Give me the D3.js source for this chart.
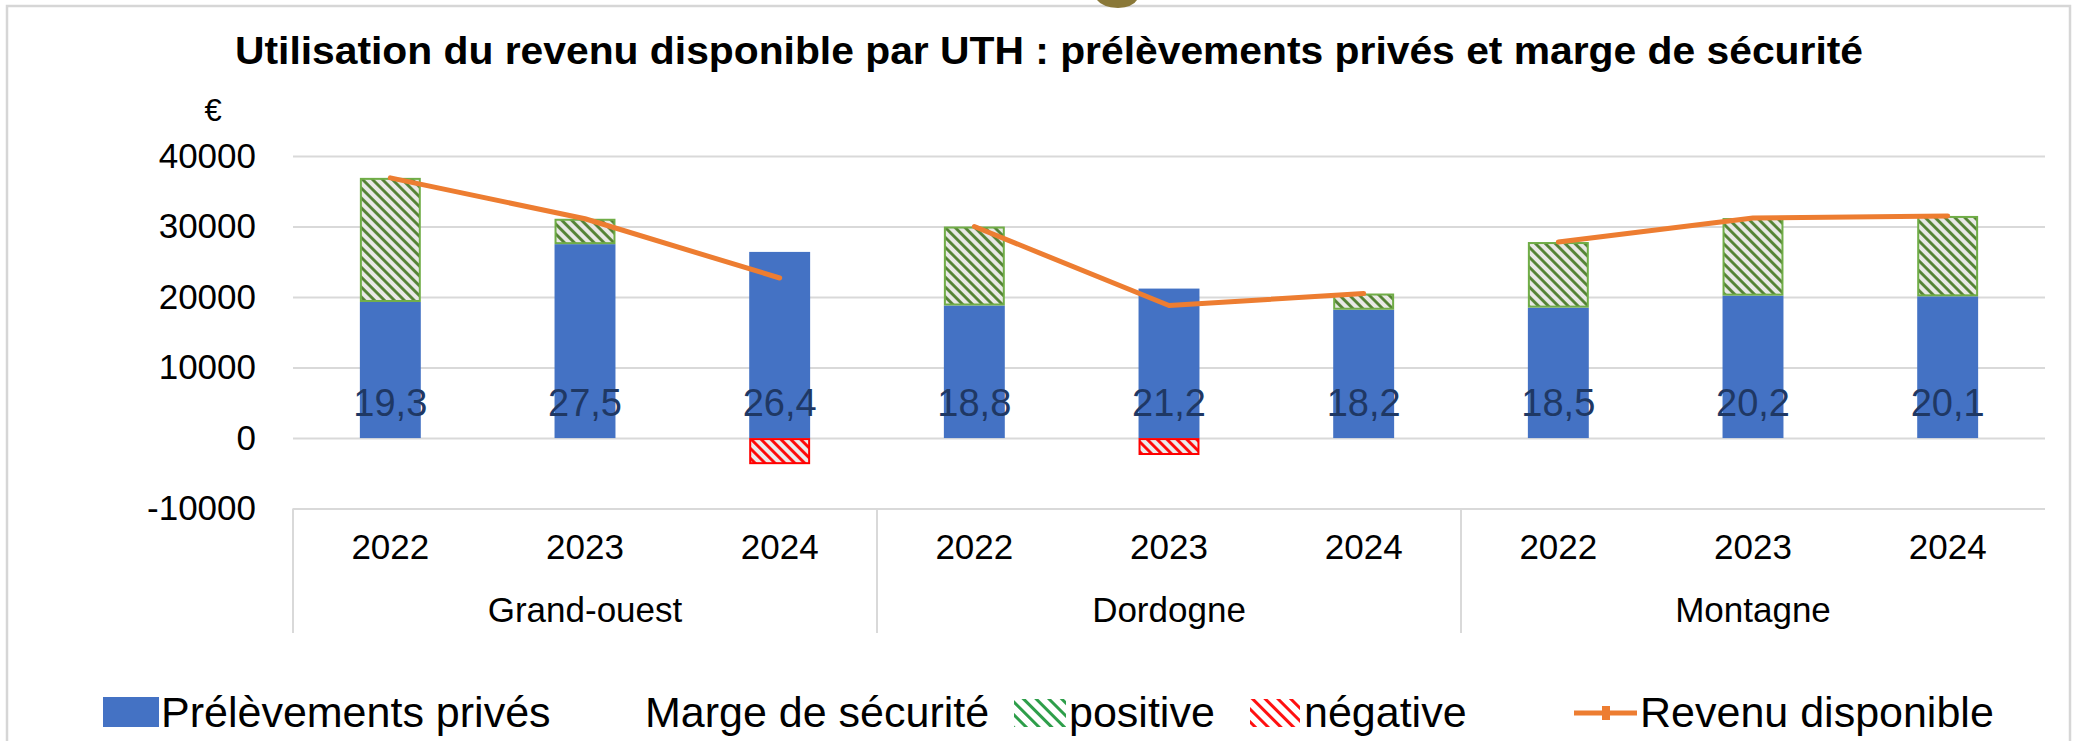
<!DOCTYPE html>
<html>
<head>
<meta charset="utf-8">
<script src="https://cdn.jsdelivr.net/npm/d3@7"></script>
<style>
  body { margin: 0; background: #fff; }
  svg { display: block; }
  text { font-family: "Liberation Sans", Arial, sans-serif; }
</style>
</head>
<body>
<div id="chart"></div>
<script>
// data
const groups = ['Grand-ouest', 'Dordogne', 'Montagne'];
const years = ['2022', '2023', '2024'];
const prelevements = [19300, 27500, 26400, 18800, 21200, 18200, 18500, 20200, 20100];
const marge = [17600, 3600, -3700, 11200, -2400, 2300, 9300, 11000, 11400];
const revenu = [36900, 31100, 22700, 30000, 18800, 20500, 27800, 31200, 31500];
const yTicks = [-10000, 0, 10000, 20000, 30000, 40000];

const title = 'Utilisation du revenu disponible par UTH : prélèvements privés et marge de sécurité';

////////////////////////////////////////////////////////////////////////////////
// CHART
////////////////////////////////////////////////////////////////////////////////
class StackChart {
  constructor(opts) {
    this.element = opts.element;
    this.width = opts.width;
    this.height = opts.height;
    this.plot = opts.plot;

    this.rows = prelevements.map((p, i) => ({
      key: groups[Math.floor(i / 3)] + '|' + years[i % 3],
      group: groups[Math.floor(i / 3)],
      year: years[i % 3],
      prel: p,
      marge: marge[i],
      revenu: revenu[i]
    }));

    this.svg = d3.select(this.element).append('svg')
      .attr('width', this.width)
      .attr('height', this.height);

    this.patterns();
    this.frame();
    this.scales();
    this.axes();
    this.bars();
    this.line();
    this.labels();
    this.legend();
  }

  patterns() {
    const defs = this.svg.append('defs');
    const mk = (id, bg, fg, size, sw) => {
      const p = defs.append('pattern')
        .attr('id', id)
        .attr('patternUnits', 'userSpaceOnUse')
        .attr('width', size).attr('height', size)
        .attr('patternTransform', 'rotate(-45)');
      p.append('rect').attr('width', size).attr('height', size).attr('fill', bg);
      p.append('line')
        .attr('x1', size / 2).attr('x2', size / 2)
        .attr('y1', 0).attr('y2', size)
        .attr('stroke', fg).attr('stroke-width', sw);
    };
    mk('hatchPos', '#e9e9e6', '#4f7f2f', 7, 2.8);
    mk('hatchNeg', '#ececec', '#ff0000', 7, 2.8);
    mk('legPos', '#ffffff', '#2e9e4a', 9, 3);
    mk('legNeg', '#ffffff', '#ff1010', 9, 3);
  }

  frame() {
    this.svg.append('rect')
      .attr('x', 7).attr('y', 6)
      .attr('width', this.width - 11).attr('height', this.height + 20)
      .attr('fill', 'none')
      .attr('stroke', '#d6d6d6')
      .attr('stroke-width', 2.5);

    // bit of a logo cut off at the top edge
    this.svg.append('path')
      .attr('d', 'M1097,0 L1137,0 Q1133,7 1118,8 Q1102,7 1097,0Z')
      .attr('fill', '#8a7838');

    this.svg.append('text')
      .attr('x', 1049).attr('y', 64)
      .attr('text-anchor', 'middle')
      .attr('font-size', 38)
      .attr('font-weight', 'bold')
      .attr('textLength', 1628)
      .attr('lengthAdjust', 'spacingAndGlyphs')
      .text(title);

    this.svg.append('text')
      .attr('x', 213).attr('y', 121)
      .attr('text-anchor', 'middle')
      .attr('font-size', 31)
      .text('€');
  }

  scales() {
    const { left, right, top, bottom } = this.plot;

    this.xScale = d3.scaleBand()
      .domain(this.rows.map(d => d.key))
      .range([left, right])
      .paddingInner(0.687)
      .paddingOuter(0.3435);

    this.groupScale = d3.scaleBand()
      .domain(groups)
      .range([left, right]);

    this.yScale = d3.scaleLinear()
      .domain([-10000, 40000])
      .range([bottom, top]);
  }

  axes() {
    const { left, right } = this.plot;

    // gridlines + value labels
    const yAxis = d3.axisLeft(this.yScale)
      .tickValues(yTicks)
      .tickSize(-(right - left))
      .tickPadding(37)
      .tickFormat(d => d);

    const gy = this.svg.append('g')
      .attr('transform', `translate(${left},0)`)
      .call(yAxis);
    gy.select('.domain').remove();
    gy.selectAll('line').attr('stroke', '#d9d9d9').attr('stroke-width', 2);
    gy.selectAll('text')
      .attr('font-family', '"Liberation Sans", Arial, sans-serif')
      .attr('font-size', 35)
      .attr('fill', '#000');

    // years
    const xAxis = d3.axisBottom(this.xScale)
      .tickSize(0)
      .tickPadding(26)
      .tickFormat(k => k.split('|')[1]);

    const gx = this.svg.append('g')
      .attr('transform', `translate(0,${this.yScale(-10000)})`)
      .call(xAxis);
    gx.select('.domain').remove();
    gx.selectAll('text')
      .attr('font-family', '"Liberation Sans", Arial, sans-serif')
      .attr('font-size', 35)
      .attr('fill', '#000');

    // group separators + names
    this.svg.append('g').selectAll('line')
      .data(groups)
      .join('line')
      .attr('x1', d => this.groupScale(d)).attr('x2', d => this.groupScale(d))
      .attr('y1', this.yScale(-10000)).attr('y2', 633)
      .attr('stroke', '#d9d9d9').attr('stroke-width', 2);

    this.svg.append('g').selectAll('text')
      .data(groups)
      .join('text')
      .attr('x', d => this.groupScale(d) + this.groupScale.bandwidth() / 2)
      .attr('y', 622)
      .attr('text-anchor', 'middle')
      .attr('font-size', 35)
      .text(d => d);
  }

  bars() {
    const y = this.yScale;
    const bw = this.xScale.bandwidth();

    this.svg.append('g').selectAll('rect')
      .data(this.rows)
      .join('rect')
      .attr('x', d => this.xScale(d.key))
      .attr('width', bw)
      .attr('y', d => y(d.prel))
      .attr('height', d => y(0) - y(d.prel))
      .attr('fill', '#4472c4');

    this.svg.append('g').selectAll('rect')
      .data(this.rows)
      .join('rect')
      .attr('x', d => this.xScale(d.key) + 1)
      .attr('width', bw - 2)
      .attr('y', d => d.marge >= 0 ? y(d.prel + d.marge) + 1 : y(0) + 1)
      .attr('height', d => d.marge >= 0 ? y(d.prel) - y(d.prel + d.marge) - 2 : y(d.marge) - y(0) - 2)
      .attr('fill', d => d.marge >= 0 ? 'url(#hatchPos)' : 'url(#hatchNeg)')
      .attr('stroke', d => d.marge >= 0 ? '#70ad47' : '#ff0000')
      .attr('stroke-width', 2);
  }

  line() {
    const line = d3.line()
      .x(d => this.xScale(d.key) + this.xScale.bandwidth() / 2)
      .y(d => this.yScale(d.revenu));

    // one piece per region, no link between them
    this.svg.append('g').selectAll('path')
      .data(groups.map(g => this.rows.filter(r => r.group === g)))
      .join('path')
      .attr('d', line)
      .attr('fill', 'none')
      .attr('stroke', '#ed7d31')
      .attr('stroke-width', 5)
      .attr('stroke-linejoin', 'round')
      .attr('stroke-linecap', 'round');
  }

  labels() {
    const fmt = v => d3.format('.1f')(v / 1000).replace('.', ',');
    this.svg.append('g').selectAll('text')
      .data(this.rows)
      .join('text')
      .attr('x', d => this.xScale(d.key) + this.xScale.bandwidth() / 2)
      .attr('y', this.yScale(0) - 22)
      .attr('text-anchor', 'middle')
      .attr('font-size', 38)
      .attr('fill', '#1f3864')
      .text(d => fmt(d.prel));
  }

  legend() {
    const g = this.svg.append('g').attr('font-size', 43);
    const base = 727;

    g.append('rect')
      .attr('x', 103).attr('y', 697).attr('width', 56).attr('height', 30)
      .attr('fill', '#4472c4');
    g.append('text').attr('x', 161).attr('y', base).text('Prélèvements privés');

    g.append('text').attr('x', 645).attr('y', base).text('Marge de sécurité');
    g.append('rect')
      .attr('x', 1014).attr('y', 699).attr('width', 52).attr('height', 28)
      .attr('fill', 'url(#legPos)');
    g.append('text').attr('x', 1069).attr('y', base).text('positive');

    g.append('rect')
      .attr('x', 1250).attr('y', 699).attr('width', 50).attr('height', 28)
      .attr('fill', 'url(#legNeg)');
    g.append('text').attr('x', 1304).attr('y', base).text('négative');

    g.append('line')
      .attr('x1', 1574).attr('x2', 1637).attr('y1', 713).attr('y2', 713)
      .attr('stroke', '#ed7d31').attr('stroke-width', 5);
    g.append('rect')
      .attr('x', 1602).attr('y', 706).attr('width', 8).attr('height', 14)
      .attr('fill', '#ed7d31');
    g.append('text').attr('x', 1640).attr('y', base).text('Revenu disponible');
  }
}

const chart = new StackChart({
  element: document.querySelector('#chart'),
  width: 2074,
  height: 741,
  plot: { left: 293, right: 2045, top: 156, bottom: 508.6 }
});
</script>
</body>
</html>
